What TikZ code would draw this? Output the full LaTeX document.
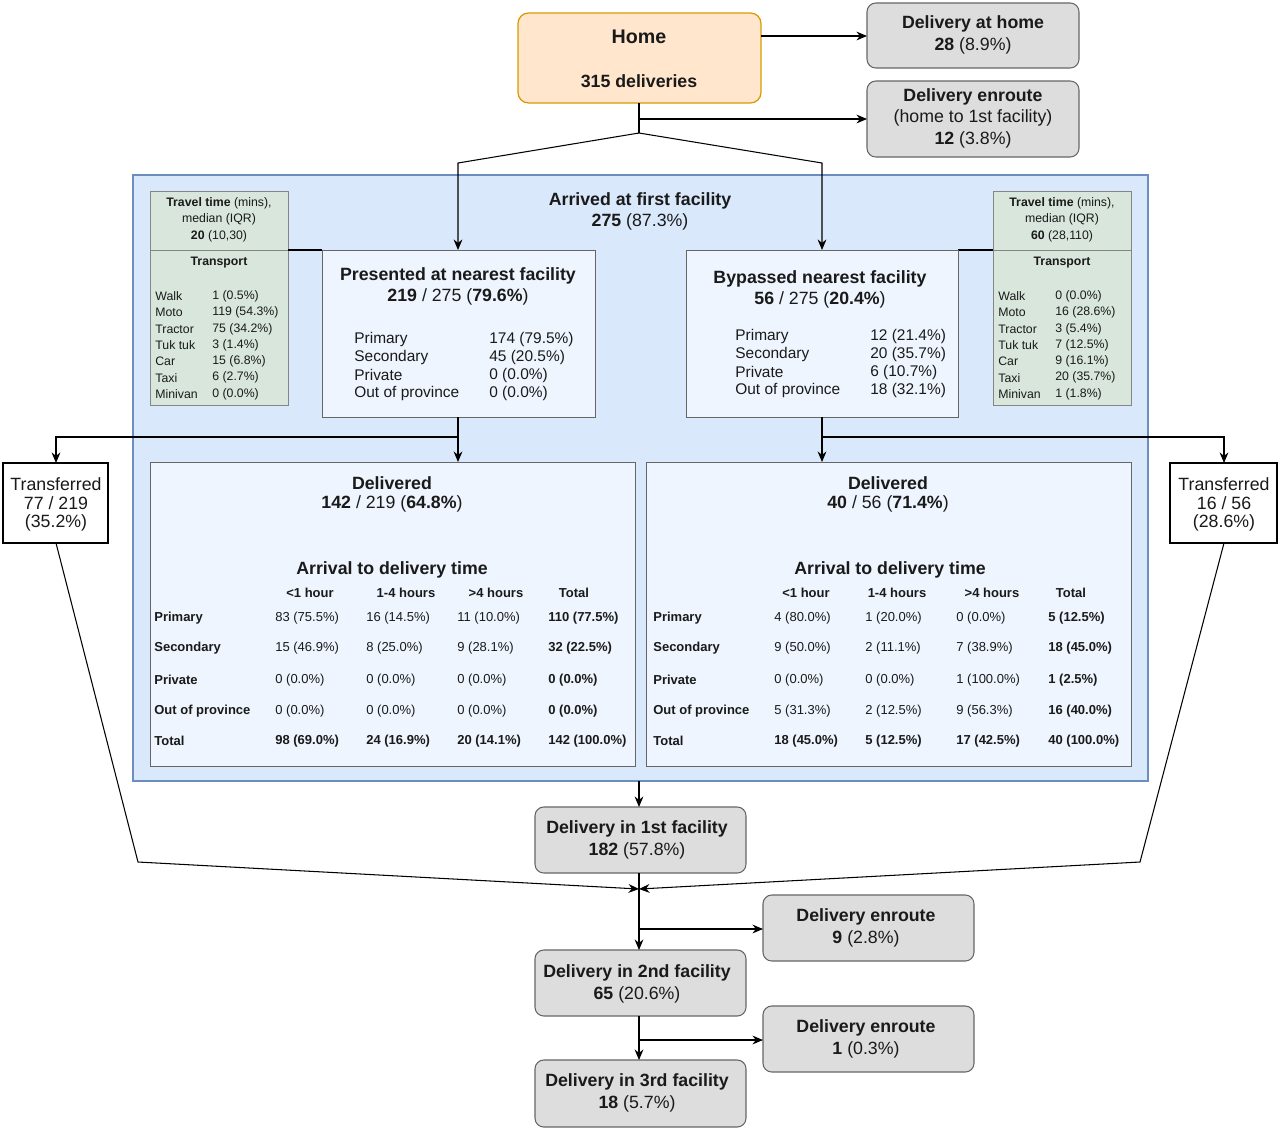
\documentclass[tikz,border=0pt]{standalone}
\usepackage{fontspec}
\setmainfont{Liberation Sans}
\usetikzlibrary{arrows.meta}
\definecolor{hfill}{HTML}{FFE6CC}\definecolor{hdraw}{HTML}{D79B00}
\definecolor{gfill}{HTML}{DDDDDD}\definecolor{gdraw}{HTML}{666666}
\definecolor{bfill}{HTML}{DAE8FC}\definecolor{bdraw}{HTML}{6C8EBF}
\definecolor{lfill}{HTML}{EEF5FE}\definecolor{tfill}{HTML}{D8E6DC}
\definecolor{txt}{HTML}{1A1A1A}
\begin{document}
\begin{tikzpicture}[x=0.02cm,y=-0.02cm,
 big/.style={font=\fontsize{10.1}{11}\selectfont,text=txt},
 mid/.style={font=\fontsize{8.8}{10}\selectfont,text=txt},
 sm/.style={font=\fontsize{7.4}{8}\selectfont,text=txt},
 tiny/.style={font=\fontsize{7}{8}\selectfont,text=txt},
 gbox/.style={draw=gdraw,fill=gfill,rounded corners=5pt,line width=0.6pt},
 lbox/.style={draw=gdraw,fill=lfill,line width=0.5pt},
 tbox/.style={draw=gdraw!80,fill=tfill,line width=0.5pt},
 arr/.style={-{Stealth[length=6pt,width=5pt]},line width=0.6pt},
 ln/.style={line width=0.6pt}]
\useasboundingbox (0,0) rectangle (1280,1130);
% top
\draw[fill=hfill,draw=hdraw,rounded corners=6pt,line width=0.7pt] (518,13) rectangle (761,103);
\node[big,font=\bfseries\fontsize{11.2}{12}\selectfont] (home) at (639,37) {Home};
\node[big,font=\bfseries\fontsize{10.1}{11}\selectfont] at (639,81) {315 deliveries};
\draw[gbox] (867,3) rectangle (1079,68);
\node[big] at (973,24) {\textbf{Delivery at home}};
\node[big] at (973,46) {\textbf{28} (8.9\%)};
\draw[gbox] (867,81) rectangle (1079,157);
\node[big] at (973,97) {\textbf{Delivery enroute}};
\node[big] at (973,118) {(home to 1st facility)};
\node[big] at (973,140) {\textbf{12} (3.8\%)};
\coordinate (h1) at (761,36); \coordinate (h1e) at (867,36);
\draw[arr] (h1) -- (h1e);
\coordinate (hb) at (639,103); \coordinate (hs) at (639,133);
\coordinate (hm) at (639,119); \coordinate (hme) at (867,119);
\draw[ln] (hb) -- (hs);
\draw[arr] (hm) -- (hme);
% blue area
\draw[fill=bfill,draw=bdraw,line width=0.6pt] (133,175) rectangle (1148,781);
\node[big] at (640,201) {\textbf{Arrived at first facility}};
\node[big] at (640,222) {\textbf{275} (87.3\%)};
\coordinate (l1) at (458,163); \coordinate (r1) at (822,163);
\coordinate (lt) at (458,250); \coordinate (rt) at (822,250);
\draw[arr] (hs) -- (l1) -- (lt);
\draw[arr] (hs) -- (r1) -- (rt);
% travel boxes
\foreach \x/\a/\b in {150/20/{(10,30)}, 993/60/{(28,110)}}{
 \draw[tbox] (\x,191) rectangle (\x+138,250);
 \draw[tbox] (\x,250) rectangle (\x+138,405);
 \node[tiny] at (\x+69,203) {\textbf{Travel time} (mins),};
 \node[tiny] at (\x+69,219) {median (IQR)};
 \node[tiny] at (\x+69,236) {\textbf{\a} \b};
 \node[tiny] at (\x+69,263) {\textbf{Transport}};
}
\foreach \n/\v [count=\i] in {Walk/1 (0.5\%),Moto/119 (54.3\%),Tractor/75 (34.2\%),Tuk tuk/3 (1.4\%),Car/15 (6.8\%),Taxi/6 (2.7\%),Minivan/0 (0.0\%)}{
 \node[tiny,anchor=west,inner sep=0] at (155,280+16.3*\i) {\n};
 \node[tiny,anchor=west,inner sep=0] at (212,280+16.3*\i) {\v};}
\foreach \n/\v [count=\i] in {Walk/0 (0.0\%),Moto/16 (28.6\%),Tractor/3 (5.4\%),Tuk tuk/7 (12.5\%),Car/9 (16.1\%),Taxi/20 (35.7\%),Minivan/1 (1.8\%)}{
 \node[tiny,anchor=west,inner sep=0] at (998,280+16.3*\i) {\n};
 \node[tiny,anchor=west,inner sep=0] at (1055,280+16.3*\i) {\v};}
\draw[ln] (288,250) -- (322,250);
\draw[ln] (958,250) -- (993,250);
% presented / bypassed
\draw[lbox] (322,250) rectangle (595,417);
\node[big] at (458,276) {\textbf{Presented at nearest facility}};
\node[big] at (458,297) {\textbf{219} / 275 (\textbf{79.6\%})};
\foreach \n/\v [count=\i] in {Primary/174 (79.5\%),Secondary/45 (20.5\%),Private/0 (0.0\%),Out of province/0 (0.0\%)}{
 \node[mid,anchor=west,inner sep=0] at (354,321+18*\i) {\n};
 \node[mid,anchor=west,inner sep=0] at (489,321+18*\i) {\v};}
\draw[lbox] (686,250) rectangle (958,417);
\node[big] at (820,279) {\textbf{Bypassed nearest facility}};
\node[big] at (820,300) {\textbf{56} / 275 (\textbf{20.4\%})};
\foreach \n/\v [count=\i] in {Primary/12 (21.4\%),Secondary/20 (35.7\%),Private/6 (10.7\%),Out of province/18 (32.1\%)}{
 \node[mid,anchor=west,inner sep=0] at (735,318+18*\i) {\n};
 \node[mid,anchor=west,inner sep=0] at (870,318+18*\i) {\v};}
% delivered boxes
\draw[lbox] (150,462) rectangle (635,766);
\draw[lbox] (646,462) rectangle (1131,766);
\node[big] at (392,483) {\textbf{Delivered}};
\node[big] at (392,504) {\textbf{142} / 219 (\textbf{64.8\%})};
\node[big] at (392,570) {\textbf{Arrival to delivery time}};
\node[big] at (888,483) {\textbf{Delivered}};
\node[big] at (888,504) {\textbf{40} / 56 (\textbf{71.4\%})};
\node[big] at (890,570) {\textbf{Arrival to delivery time}};
\foreach \ox/\a/\b/\c/\d in {0/310/406/496/574, 499/806/897/992/1071}{
 \node[sm] at (\a,593) {\textbf{<1 hour}};
 \node[sm] at (\b,593) {\textbf{1-4 hours}};
 \node[sm] at (\c,593) {\textbf{>4 hours}};
 \node[sm] at (\d,593) {\textbf{Total}};
 \foreach \n/\y in {Primary/618,Secondary/648,Private/680,Out of province/711,Total/741}
  \node[sm,anchor=west,inner sep=0] at (154+\ox,\y) {\textbf{\n}};
}
\foreach \y/\p/\q/\r/\s in {618/83 (75.5\%)/16 (14.5\%)/11 (10.0\%)/110 (77.5\%),648/15 (46.9\%)/8 (25.0\%)/9 (28.1\%)/32 (22.5\%),680/0 (0.0\%)/0 (0.0\%)/0 (0.0\%)/0 (0.0\%),711/0 (0.0\%)/0 (0.0\%)/0 (0.0\%)/0 (0.0\%)}{
 \node[sm,anchor=west,inner sep=0] at (275,\y) {\p};
 \node[sm,anchor=west,inner sep=0] at (366,\y) {\q};
 \node[sm,anchor=west,inner sep=0] at (457,\y) {\r};
 \node[sm,anchor=west,inner sep=0] at (548,\y) {\textbf{\s}};}
\node[sm,anchor=west,inner sep=0] at (275,741) {\textbf{98 (69.0\%)}};
\node[sm,anchor=west,inner sep=0] at (366,741) {\textbf{24 (16.9\%)}};
\node[sm,anchor=west,inner sep=0] at (457,741) {\textbf{20 (14.1\%)}};
\node[sm,anchor=west,inner sep=0] at (548,741) {\textbf{142 (100.0\%)}};
\foreach \y/\p/\q/\r/\s in {618/4 (80.0\%)/1 (20.0\%)/0 (0.0\%)/5 (12.5\%),648/9 (50.0\%)/2 (11.1\%)/7 (38.9\%)/18 (45.0\%),680/0 (0.0\%)/0 (0.0\%)/1 (100.0\%)/1 (2.5\%),711/5 (31.3\%)/2 (12.5\%)/9 (56.3\%)/16 (40.0\%)}{
 \node[sm,anchor=west,inner sep=0] at (774,\y) {\p};
 \node[sm,anchor=west,inner sep=0] at (865,\y) {\q};
 \node[sm,anchor=west,inner sep=0] at (956,\y) {\r};
 \node[sm,anchor=west,inner sep=0] at (1048,\y) {\textbf{\s}};}
\node[sm,anchor=west,inner sep=0] at (774,741) {\textbf{18 (45.0\%)}};
\node[sm,anchor=west,inner sep=0] at (865,741) {\textbf{5 (12.5\%)}};
\node[sm,anchor=west,inner sep=0] at (956,741) {\textbf{17 (42.5\%)}};
\node[sm,anchor=west,inner sep=0] at (1048,741) {\textbf{40 (100.0\%)}};
% transferred
\draw[fill=white,line width=0.6pt] (3,463) rectangle (108,543);
\draw[fill=white,line width=0.6pt] (1170,463) rectangle (1277,543);
\node[big] at (56,484) {Transferred};
\node[big] at (56,503) {77 / 219};
\node[big] at (56,523) {(35.2\%)};
\node[big] at (1224,484) {Transferred};
\node[big] at (1224,503) {16 / 56};
\node[big] at (1224,523) {(28.6\%)};
% arrows mid
\coordinate (pb) at (458,417); \coordinate (pj) at (458,437); \coordinate (pd) at (458,462);
\coordinate (tl) at (56,437); \coordinate (tle) at (56,463);
\draw[arr] (pb) -- (pd);
\draw[arr] (pj) -- (tl) -- (tle);
\coordinate (bb) at (822,417); \coordinate (bj) at (822,437); \coordinate (bd) at (822,462);
\coordinate (tr) at (1224,437); \coordinate (tre) at (1224,463);
\draw[arr] (bb) -- (bd);
\draw[arr] (bj) -- (tr) -- (tre);
% bottom
\draw[gbox] (535,807) rectangle (746,873);
\node[big] at (637,829) {\textbf{Delivery in 1st facility}};
\node[big] at (637,851) {\textbf{182} (57.8\%)};
\draw[gbox] (535,950) rectangle (746,1016);
\node[big] at (637,973) {\textbf{Delivery in 2nd facility}};
\node[big] at (637,995) {\textbf{65} (20.6\%)};
\draw[gbox] (535,1060) rectangle (746,1127);
\node[big] at (637,1082) {\textbf{Delivery in 3rd facility}};
\node[big] at (637,1104) {\textbf{18} (5.7\%)};
\draw[gbox] (763,895) rectangle (974,961);
\node[big] at (866,917) {\textbf{Delivery enroute}};
\node[big] at (866,939) {\textbf{9} (2.8\%)};
\draw[gbox] (763,1006) rectangle (974,1072);
\node[big] at (866,1028) {\textbf{Delivery enroute}};
\node[big] at (866,1050) {\textbf{1} (0.3\%)};
\coordinate (ab) at (639,781); \coordinate (f1) at (639,807);
\draw[arr] (ab) -- (f1);
\coordinate (m) at (639,889);
\coordinate (tlb) at (56,543); \coordinate (tlk) at (138,862);
\coordinate (trb) at (1224,543); \coordinate (trk) at (1140,862);
\draw[arr] (tlb) -- (tlk) -- (m);
\draw[arr] (trb) -- (trk) -- (m);
\coordinate (f1b) at (639,873); \coordinate (f2) at (639,950);
\draw[arr] (f1b) -- (f2);
\coordinate (j1) at (639,929); \coordinate (e1) at (763,929);
\draw[arr] (j1) -- (e1);
\coordinate (f2b) at (639,1016); \coordinate (f3) at (639,1060);
\draw[arr] (f2b) -- (f3);
\coordinate (j2) at (639,1040); \coordinate (e2) at (763,1040);
\draw[arr] (j2) -- (e2);
\end{tikzpicture}
\end{document}
